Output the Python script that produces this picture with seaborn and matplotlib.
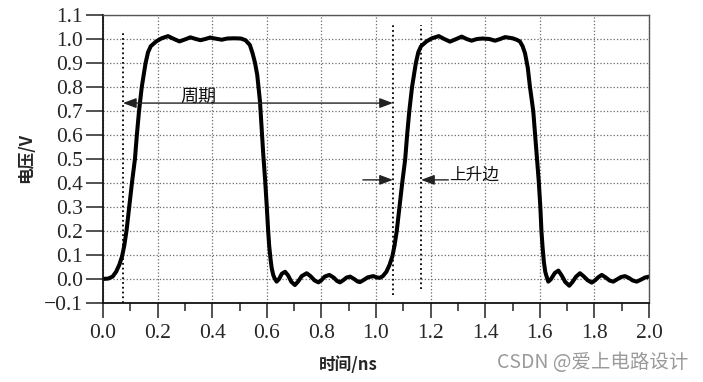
import numpy as np
import matplotlib
matplotlib.use("Agg")
import matplotlib.pyplot as plt
from matplotlib.ticker import MultipleLocator
import seaborn as sns

# Waveform (time in ns, voltage in V)
time_ns = [0.0, 0.02, 0.035, 0.048, 0.06, 0.07, 0.078, 0.086, 0.096, 0.106, 0.117, 0.124, 0.132,
           0.142, 0.156, 0.165, 0.175, 0.195, 0.215, 0.238, 0.26, 0.28, 0.30, 0.32, 0.34,
           0.357, 0.375, 0.392, 0.41, 0.435, 0.455, 0.48, 0.505, 0.522, 0.538, 0.548, 0.557,
           0.565, 0.575, 0.581, 0.587, 0.594, 0.60, 0.605, 0.609, 0.614, 0.618, 0.624, 0.63,
           0.636, 0.645, 0.655, 0.667, 0.678, 0.69, 0.703, 0.715, 0.728, 0.746, 0.76, 0.775,
           0.789, 0.80, 0.812, 0.829, 0.845, 0.857, 0.868, 0.88, 0.892, 0.905, 0.92, 0.932,
           0.941, 0.955, 0.97, 0.99, 1.005, 1.015, 1.025, 1.038, 1.05, 1.06, 1.068, 1.076,
           1.086, 1.096, 1.107, 1.114, 1.122, 1.132, 1.146, 1.155, 1.165, 1.185, 1.205, 1.23,
           1.25, 1.271, 1.29, 1.314, 1.332, 1.35, 1.37, 1.39, 1.415, 1.436, 1.455, 1.473,
           1.50, 1.515, 1.527, 1.537, 1.546, 1.556, 1.564, 1.576, 1.583, 1.59, 1.596, 1.602,
           1.606, 1.61, 1.615, 1.62, 1.625, 1.631, 1.64, 1.655, 1.668, 1.68, 1.693, 1.708,
           1.72, 1.733, 1.747, 1.76, 1.775, 1.79, 1.803, 1.815, 1.827, 1.842, 1.855, 1.869,
           1.882, 1.897, 1.912, 1.927, 1.94, 1.955, 1.97, 1.985, 2.0]
voltage = [0.0, 0.002, 0.01, 0.03, 0.06, 0.095, 0.14, 0.2, 0.3, 0.4, 0.5, 0.6, 0.7,
           0.8, 0.9, 0.945, 0.97, 0.99, 1.003, 1.012, 1.0, 0.99, 0.998, 1.007, 1.0,
           0.995, 1.0, 1.006, 1.002, 0.997, 1.002, 1.003, 1.002, 0.995, 0.975, 0.94, 0.9,
           0.85, 0.74, 0.63, 0.52, 0.41, 0.30, 0.2, 0.135, 0.08, 0.045, 0.015, 0.0,
           -0.011, 0.0, 0.022, 0.03, 0.015, -0.012, -0.025, -0.01, 0.012, 0.024, 0.012, -0.006,
           -0.014, -0.005, 0.01, 0.017, 0.006, -0.008, -0.014, -0.005, 0.006, 0.01, 0.0, -0.01,
           -0.013, -0.004, 0.007, 0.012, 0.006, 0.005, 0.012, 0.03, 0.06, 0.095, 0.14, 0.2,
           0.3, 0.4, 0.5, 0.6, 0.7, 0.8, 0.9, 0.945, 0.97, 0.99, 1.003, 1.012,
           1.0, 0.989, 0.998, 1.01, 1.0, 0.993, 1.0, 1.002, 1.0, 0.993, 1.0, 1.008,
           1.003, 0.997, 0.99, 0.97, 0.94, 0.88, 0.80, 0.70, 0.6, 0.5, 0.41, 0.3,
           0.2, 0.135, 0.07, 0.03, 0.01, -0.011, -0.002, 0.025, 0.035, 0.015, -0.012, -0.028,
           -0.012, 0.01, 0.024, 0.012, -0.005, -0.015, -0.005, 0.008, 0.017, 0.006, -0.006, -0.011,
           -0.002, 0.008, 0.012, 0.004, -0.006, -0.011, -0.003, 0.006, 0.01]

# dotted marker lines
marker_x = [0.073, 1.062, 1.165]
marker_ymin = [-0.1, -0.067, -0.04]
marker_ymax = [1.03, 1.058, 1.058]

# annotations
period_start, period_end, period_y = 0.073, 1.062, 0.733
rise_left_tail, rise_right_tail, rise_y = 0.952, 1.265, 0.413

sns.set_style("white")
plt.rcParams['font.family'] = ['Liberation Serif', 'Noto Sans CJK SC']
cjk = ['Noto Sans CJK SC', 'DejaVu Sans']

fig = plt.figure(figsize=(7.03, 3.82), dpi=100)
ax = fig.add_axes([103 / 703, 1 - 303 / 382, 546 / 703, 288 / 382])

ax.set_xlim(0, 2.0)
ax.set_ylim(-0.1, 1.1)
ax.xaxis.set_major_locator(MultipleLocator(0.2))
ax.xaxis.set_minor_locator(MultipleLocator(0.1))
ax.yaxis.set_major_locator(MultipleLocator(0.1))
ax.grid(True, which='major', ls=':', color='#6a6a6a', lw=0.9)
ax.set_axisbelow(True)

ax.tick_params(axis='y', which='major', direction='out', length=12, width=1.1,
               color='#222', labelsize=15.5, pad=2.5, left=True)
ax.tick_params(axis='x', which='major', direction='out', length=11, width=1.1,
               color='#222', labelsize=15.5, pad=4, bottom=True)
ax.tick_params(axis='x', which='minor', direction='out', length=6, width=1.1,
               color='#222', bottom=True)

for side in ['left', 'bottom']:
    ax.spines[side].set_color('#111')
    ax.spines[side].set_linewidth(1.3)
for side in ['top', 'right']:
    ax.spines[side].set_color('#555')
    ax.spines[side].set_linewidth(1.0)

sns.lineplot(x=time_ns, y=voltage, sort=False, estimator=None, color='black',
             lw=2.9, ax=ax, solid_joinstyle='round', solid_capstyle='round')

ax.vlines(marker_x, marker_ymin, marker_ymax, colors='black', linestyles=':', lw=1.3,
          clip_on=False)

arrow = dict(arrowstyle='<|-|>,head_length=0.8,head_width=0.3', color='#222', lw=1.0,
             shrinkA=0, shrinkB=0)
ax.annotate('', xy=(period_start, period_y), xytext=(period_end, period_y), arrowprops=arrow)
ax.text(0.348, 0.756, '周期', ha='center', va='center', fontsize=13, family=cjk,
        color='#111')

one_way = dict(arrowstyle='-|>,head_length=0.8,head_width=0.3', color='#222', lw=1.0,
               shrinkA=0, shrinkB=0)
ax.annotate('', xy=(marker_x[1], rise_y), xytext=(rise_left_tail, rise_y), arrowprops=one_way)
ax.annotate('', xy=(marker_x[2], rise_y), xytext=(rise_right_tail, rise_y), arrowprops=one_way)
ax.text(1.268, 0.433, '上升边', ha='left', va='center', fontsize=12, family=cjk,
        color='#111')

ax.set_xlabel('时间/ns', fontsize=12, family=cjk, fontweight='bold')
ax.xaxis.set_label_coords((348 - 103) / 546, -0.184)
ax.set_ylabel('电压/V', fontsize=12, family=cjk, fontweight='bold')
ax.yaxis.set_label_coords(-0.1245, 0.503)

fig.text(688 / 703, 1 - 363 / 382, 'CSDN @爱上电路设计', ha='right', va='center',
         fontsize=14, color='#9a9a9a', family=cjk)

fig.savefig('out.png', dpi=100, facecolor='white')
